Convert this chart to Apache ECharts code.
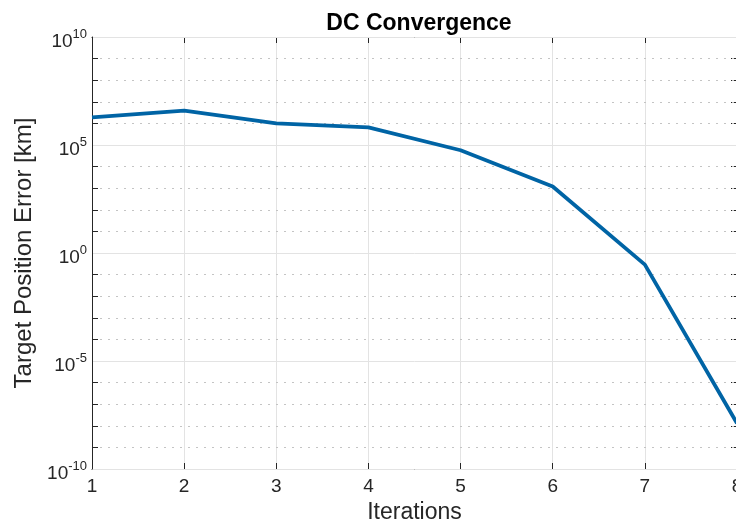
<!DOCTYPE html>
<html>
<head>
<meta charset="utf-8">
<script src="https://cdn.jsdelivr.net/npm/echarts@6/dist/echarts.min.js"></script>
<style>
  html, body { margin: 0; padding: 0; background: #fff; }
  #chart { width: 736px; height: 527px; }
</style>
</head>
<body>
<div id="chart"></div>
<script>
// Differential-correction convergence history
const iterations = [1, 2, 3, 4, 5, 6, 7, 8];
const positionErrorKm = [1.9e6, 3.9e6, 1.0e6, 6.6e5, 5.7e4, 1.2e3, 0.29, 1.3e-8];
const xTicks = [1, 2, 3, 4, 5, 6, 7, 8];
const yTickExponents = [-10, -5, 0, 5, 10];

const textColor = '#262626';
const axisColor = '#262626';
const font = 'Liberation Sans, Arial, Helvetica, sans-serif';

const chart = echarts.init(document.getElementById('chart'), null, { renderer: 'canvas' });

const yMin = Math.pow(10, yTickExponents[0]);
const yMax = Math.pow(10, yTickExponents[yTickExponents.length - 1]);

chart.setOption({
  backgroundColor: '#ffffff',
  animation: false,
  title: {
    text: 'DC Convergence',
    left: 414,
    textAlign: 'center',
    top: 7,
    textStyle: { fontFamily: font, fontSize: 23, fontWeight: 'bold', color: '#000' }
  },
  // plot box runs slightly past the right edge of the canvas
  grid: {
    left: 92, top: 37, width: 645, height: 432,
    containLabel: false,
    outerBoundsMode: 'none'
  },
  xAxis: [
    {
      type: 'value',
      position: 'bottom',
      min: xTicks[0],
      max: xTicks[xTicks.length - 1],
      interval: 1,
      name: 'Iterations',
      nameLocation: 'middle',
      nameGap: 32,
      nameTextStyle: { fontFamily: font, fontSize: 23, color: textColor },
      axisLine: { show: true, onZero: false, lineStyle: { color: axisColor, width: 1 } },
      axisTick: { show: true, inside: true, length: 6, lineStyle: { color: axisColor } },
      axisLabel: { fontFamily: font, fontSize: 19, color: textColor, margin: 8, hideOverlap: false },
      splitLine: { show: true, lineStyle: { color: '#e3e3e3', width: 1 } }
    },
    {
      type: 'value',
      position: 'top',
      min: xTicks[0],
      max: xTicks[xTicks.length - 1],
      interval: 1,
      axisLine: { show: true, onZero: false, lineStyle: { color: axisColor, width: 1 } },
      axisTick: { show: true, inside: true, length: 6, lineStyle: { color: axisColor } },
      axisLabel: { show: false },
      splitLine: { show: false }
    }
  ],
  yAxis: [
    {
      // major decades: labels and solid grid
      type: 'log',
      logBase: 10,
      position: 'left',
      min: yMin,
      max: yMax,
      interval: 5,
      name: 'Target Position Error [km]',
      nameLocation: 'middle',
      nameGap: 56,
      nameTextStyle: { fontFamily: font, fontSize: 24, color: textColor },
      axisLine: { show: true, onZero: false, lineStyle: { color: axisColor, width: 1 } },
      axisTick: { show: false },
      axisLabel: {
        margin: 5,
        padding: [10, 0, 0, 0],
        formatter: function (v) {
          const e = Math.round(Math.log10(v));
          return '{b|10}{s|' + e + '}';
        },
        rich: {
          b: { fontFamily: font, fontSize: 19, color: textColor },
          s: { fontFamily: font, fontSize: 13, color: textColor, padding: [0, 0, 16, 0] }
        }
      },
      splitLine: { show: true, lineStyle: { color: '#e3e3e3', width: 1 } },
      z: 3
    },
    {
      // every decade: dotted grid and ticks
      type: 'log',
      logBase: 10,
      position: 'left',
      min: yMin,
      max: yMax,
      interval: 1,
      axisLine: { show: false },
      axisTick: { show: true, inside: true, length: 6, lineStyle: { color: axisColor } },
      axisLabel: { show: false },
      splitLine: { show: true, lineStyle: { color: '#c4c4c4', width: 1, type: [2, 6] } },
      z: 2
    },
    {
      type: 'log',
      logBase: 10,
      position: 'right',
      min: yMin,
      max: yMax,
      interval: 1,
      axisLine: { show: true, onZero: false, lineStyle: { color: axisColor, width: 1 } },
      axisTick: { show: true, inside: true, length: 6, lineStyle: { color: axisColor } },
      axisLabel: { show: false },
      splitLine: { show: false }
    }
  ],
  series: [
    {
      type: 'line',
      xAxisIndex: 0,
      yAxisIndex: 0,
      data: iterations.map((it, i) => [it, positionErrorKm[i]]),
      showSymbol: false,
      symbol: 'none',
      lineStyle: { color: '#0064A5', width: 3.8 },
      clip: true,
      z: 5
    }
  ]
});
</script>
</body>
</html>
